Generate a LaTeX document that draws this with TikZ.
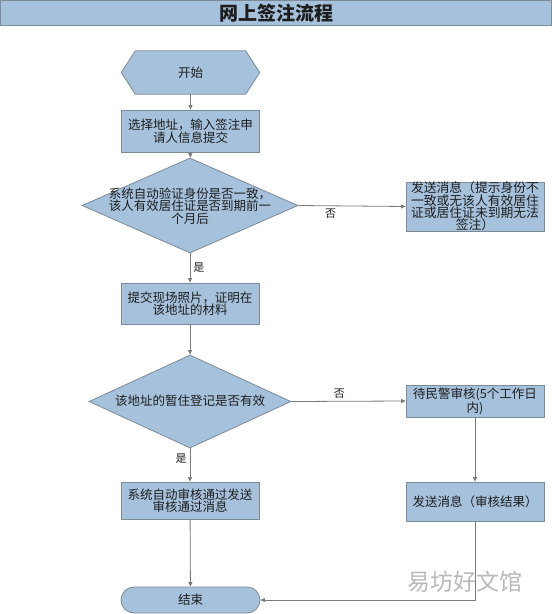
\documentclass[tikz,border=0pt]{standalone}
\usepackage{fontspec}
\setmainfont{Noto Sans CJK SC}
\usetikzlibrary{shapes.geometric,shapes.misc,arrows.meta,backgrounds}
\definecolor{boxfill}{HTML}{A5C1DB}
\definecolor{boxline}{HTML}{7D8A98}
\definecolor{arrowc}{HTML}{7A7A7A}
\definecolor{txtc}{HTML}{1E1E1E}
\tikzset{
  base/.style={draw=boxline, fill=boxfill, line width=0.8pt, inner sep=0pt},
  procbox/.style={base, rectangle, minimum width=138pt, align=center,
    font=\fontsize{12.5}{12.5}\selectfont, text=txtc},
  dtext/.style={align=center, inner sep=0pt, font=\fontsize{12.5}{12.5}\selectfont, text=txtc},
  conn/.style={draw=arrowc, line width=0.8pt, -{Triangle[length=4.5pt,width=4pt]}},
  lbl/.style={font=\fontsize{11}{11}\selectfont, text=txtc, inner sep=1pt},
}
\begin{document}
\begin{tikzpicture}[x=1pt,y=-1pt]
\useasboundingbox (0,0) rectangle (552,614);
% title
\node[base, rectangle, minimum width=551pt, minimum height=25pt, text=txtc,
  font=\fontsize{19}{19}\selectfont\bfseries] (title) at (276,13) {网上签注流程};
% start hexagon
\node[text=txtc, font=\fontsize{12.5}{12.5}\selectfont, minimum width=138pt, minimum height=43pt, inner sep=0pt] (start) at (190.5,72.5) {开始};
\begin{scope}[on background layer]
\path[base] ([xshift=14pt]start.north west) -- ([xshift=-14pt]start.north east) -- (start.east)
  -- ([xshift=-14pt]start.south east) -- ([xshift=14pt]start.south west) -- (start.west) -- cycle;
\end{scope}
% main column
\node[procbox, minimum height=42pt] (b1) at (190.5,131) {选择地址，输入签注申\\请人信息提交};
\node[base, diamond, minimum width=216pt, minimum height=95pt] (d1) at (190,205.5) {};
\node[dtext] (d1t) at (190,206) {系统自动验证身份是否一致，\\该人有效居住证是否到期前一\\个月后};
\node[procbox, minimum height=41pt] (b2) at (190,303.5) {提交现场照片，证明在\\该地址的材料};
\node[base, diamond, minimum width=202pt, minimum height=93pt] (d2) at (190,401.5) {};
\node[dtext] (d2t) at (190,401) {该地址的暂住登记是否有效};
\node[procbox, minimum height=37pt] (b3) at (190,500.5) {系统自动审核通过发送\\审核通过消息};
\node[base, rounded rectangle, minimum width=139pt, minimum height=26pt, text=txtc,
  font=\fontsize{12.5}{12.5}\selectfont] (end) at (190.5,600) {结束};
% right column
\node[procbox, minimum height=49pt, font=\fontsize{12.8}{12.3}\selectfont] (r1) at (475,206.5)
  {发送消息（提示身份不\\一致或无该人有效居住\\证或居住证未到期无法\\签注）};
\node[procbox, minimum height=32pt] (r2) at (475,401) {待民警审核(5个工作日\\内)};
\node[procbox, minimum height=39pt] (r3) at (475,501.5) {发送消息（审核结果）};
% connectors
\draw[conn] (start) -- (b1);
\draw[conn] (b1) -- (d1);
\draw[conn] (d1.east) -- node[lbl, pos=0.3, below=2pt] {否} (r1.west);
\draw[conn] (d1.south) -- node[lbl, pos=0.5, right=2pt] {是} (b2.north);
\draw[conn] (b2) -- (d2);
\draw[conn] (d2.east) -- node[lbl, pos=0.42, above=2pt] {否} (r2.west);
\draw[conn] (d2.south) -- node[lbl, pos=0.3, left=2pt] {是} (b3.north);
\draw[conn] (b3) -- (end);
\draw[conn] (r2) -- (r3);
\draw[conn] (r3.south) |- (end.east);
% watermark
\node[text=gray!55, font=\fontsize{23}{23}\selectfont, inner sep=0pt] (wm) at (465,582) {易坊好文馆};
\end{tikzpicture}
\end{document}
